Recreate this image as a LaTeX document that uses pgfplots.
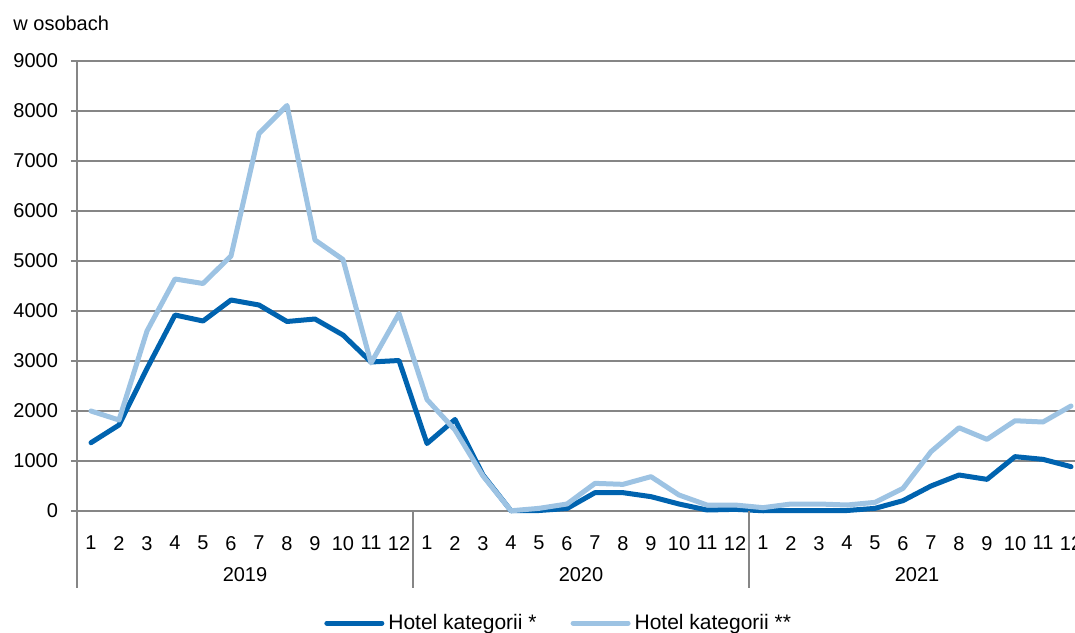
\documentclass[border=0pt]{standalone}
\usepackage{fontspec}
\setmainfont{Liberation Sans}
\usepackage{pgfplots}
\pgfplotsset{compat=1.18}
\definecolor{hotelDark}{HTML}{0063AF}
\definecolor{hotelLight}{HTML}{9DC3E3}
\definecolor{gridGray}{HTML}{868686}

\begin{document}
\begin{tikzpicture}
\begin{axis}[
  at={(38.5pt,60.5pt)}, anchor=south west,
  scale only axis, width=504pt, height=225pt,
  xmin=0.5, xmax=36.5, ymin=0, ymax=9000,
  axis lines*=left,
  axis line style={draw=gridGray, line width=0.6pt},
  ytick={0,1000,...,9000},
  ymajorgrids,
  major grid style={draw=gridGray, line width=0.6pt},
  y tick style={draw=gridGray, line width=0.6pt},
  tick align=outside, major tick length=3pt,
  xtick={1,...,36},
  x tick style={draw=none},
  xticklabels={1,2,3,4,5,6,7,8,9,10,11,12,1,2,3,4,5,6,7,8,9,10,11,12,1,2,3,4,5,6,7,8,9,10,11,12},
  xticklabel style={yshift=-6pt},
  yticklabel style={xshift=-3pt},
  tick label style={font=\fontsize{10}{12}\selectfont},
  /pgf/number format/assume math mode=true,
  /pgf/number format/1000 sep={},
  scaled y ticks=false,
  clip=false,
  legend columns=2,
  legend style={draw=none, fill=none, inner sep=0pt, at={(0.245,-0.249)}, anchor=west,
    font=\fontsize{10.5}{12}\selectfont, column sep=0pt,
    /tikz/every even column/.append style={column sep=15pt}},
  legend image code/.code={\draw[#1] (1.5pt,0pt) -- (29pt,0pt);},
]
\addplot[hotelDark, line width=2.5pt, line join=round, line cap=round] coordinates {
  (1,1366) (2,1720) (3,2850) (4,3920) (5,3800) (6,4220) (7,4120) (8,3790) (9,3840) (10,3520) (11,2980) (12,3010)
  (13,1350) (14,1830) (15,720) (16,5) (17,10) (18,50) (19,367) (20,367) (21,287) (22,140) (23,20) (24,33)
  (25,5) (26,10) (27,10) (28,10) (29,53) (30,207) (31,500) (32,720) (33,633) (34,1087) (35,1033) (36,887)
};
\addplot[hotelLight, line width=2.5pt, line join=round, line cap=round] coordinates {
  (1,2000) (2,1820) (3,3600) (4,4640) (5,4550) (6,5100) (7,7550) (8,8110) (9,5420) (10,5030) (11,2960) (12,3950)
  (13,2230) (14,1620) (15,700) (16,5) (17,53) (18,140) (19,553) (20,533) (21,687) (22,320) (23,120) (24,120)
  (25,67) (26,140) (27,140) (28,120) (29,173) (30,453) (31,1187) (32,1665) (33,1433) (34,1805) (35,1780) (36,2100)
};
\legend{Hotel kategorii *,Hotel kategorii **}

\foreach \s in {0.5,12.5,24.5,36.5} {
  \edef\temp{\noexpand\draw[gridGray, line width=0.6pt] (axis cs:\s,0) -- ++(0pt,-38.5pt);}
  \temp
}
\node[font=\fontsize{10}{12}\selectfont] at ([yshift=-31.75pt]axis cs:6.5,0) {2019};
\node[font=\fontsize{10}{12}\selectfont] at ([yshift=-31.75pt]axis cs:18.5,0) {2020};
\node[font=\fontsize{10}{12}\selectfont] at ([yshift=-31.75pt]axis cs:30.5,0) {2021};
\end{axis}
\node[anchor=base west, font=\fontsize{10}{12}\selectfont, inner sep=0pt] at (6.5pt,300.5pt) {w osobach};
\pgfresetboundingbox
\path[use as bounding box] (0pt,0pt) rectangle (537.5pt,316pt);
\end{tikzpicture}
\end{document}
